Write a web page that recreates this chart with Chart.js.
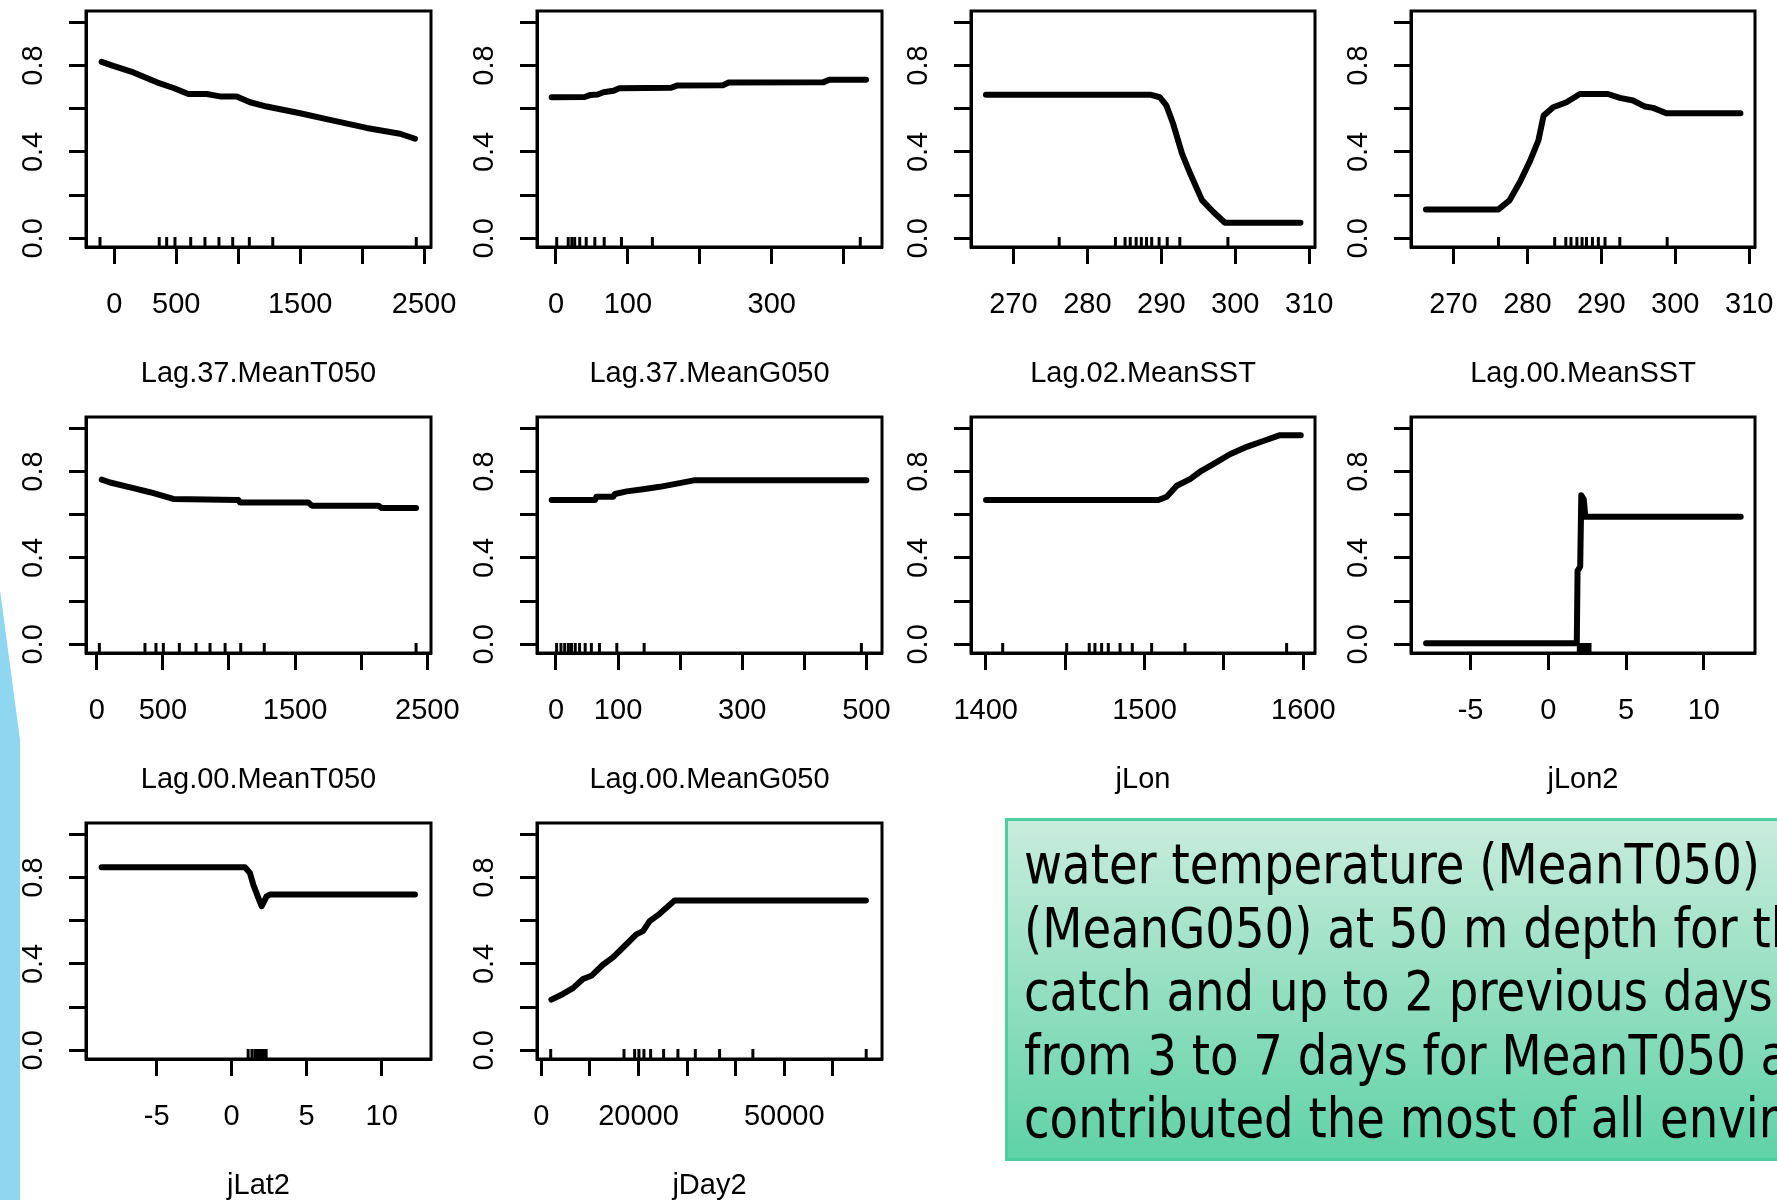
<!DOCTYPE html>
<html>
<head>
<meta charset="utf-8">
<title>Partial dependence plots</title>
<script src="https://cdn.jsdelivr.net/npm/chart.js@4.4.1/dist/chart.umd.min.js"></script>
<style>
  html, body { margin: 0; padding: 0; width: 1777px; height: 1200px; overflow: hidden; background: #fff; }
  canvas.panel { position: absolute; }
  #accent {
    position: absolute; left: 0; top: 0; width: 20px; height: 1200px; background: #8fd7f1;
    clip-path: polygon(0 590px, 20px 740px, 20px 1200px, 0 1200px);
  }
  #note {
    position: absolute; left: 1005px; top: 818px; width: 900px; height: 337px;
    border: 3px solid #4ccf9f;
    background: linear-gradient(#c8ecdd, #60d2a8);
  }
  #note .ln {
    position: absolute; left: 16px; white-space: nowrap;
    font-family: 'DejaVu Sans', sans-serif; font-size: 56px; line-height: 56px; color: #000;
    transform-origin: 0 0;
  }
</style>
</head>
<body>
<div id="accent"></div>
<div id="note">
  <div class="ln">water temperature (MeanT050)</div>
  <div class="ln">(MeanG050) at 50 m depth for the</div>
  <div class="ln">catch and up to 2 previous days</div>
  <div class="ln">from 3 to 7 days for MeanT050 and</div>
  <div class="ln">contributed the most of all environmental</div>
</div>
<script>
// ---- fitted partial dependence curves (x values, y values) and rug (deciles) ----
const lag37T050X = [-102, -8, 155, 344, 478, 598, 746, 853, 988, 1096, 1230, 1500, 1768, 2037, 2306, 2427];
const lag37T050Y = [0.817, 0.798, 0.768, 0.722, 0.696, 0.668, 0.668, 0.657, 0.657, 0.630, 0.610, 0.579, 0.545, 0.511, 0.484, 0.461];
const lag37T050Rug = [-115, 363, 423, 490, 617, 732, 845, 956, 1090, 1279, 2437];

const lag37G050X = [-6, 40, 48, 58, 66, 80, 88, 160, 168, 232, 240, 372, 380, 431];
const lag37G050Y = [0.653, 0.654, 0.664, 0.666, 0.676, 0.683, 0.695, 0.697, 0.707, 0.709, 0.721, 0.723, 0.734, 0.734];
const lag37G050Rug = [1, 17, 22, 26, 33, 42, 54, 67, 91, 134, 423];

const lag02SSTX = [266.3, 288.5, 289.8, 290.7, 291.6, 292.8, 293.9, 295.5, 297.0, 298.6, 308.8];
const lag02SSTY = [0.665, 0.665, 0.653, 0.614, 0.530, 0.392, 0.300, 0.177, 0.123, 0.072, 0.072];
const lag02SSTRug = [276.2, 283.8, 285.1, 285.8, 286.6, 287.3, 288.0, 288.7, 289.7, 290.8, 292.5, 299.0];

const lag00SSTX = [266.3, 276.1, 277.6, 279.0, 280.4, 281.5, 282.2, 283.5, 285.3, 287.1, 290.9, 292.5, 294.3, 295.9, 297.0, 298.8, 308.8];
const lag00SSTY = [0.134, 0.134, 0.176, 0.261, 0.361, 0.453, 0.568, 0.607, 0.630, 0.668, 0.668, 0.650, 0.638, 0.610, 0.604, 0.579, 0.579];
const lag00SSTRug = [276.1, 283.7, 285.2, 285.9, 286.7, 287.4, 288.0, 288.8, 289.6, 290.5, 292.5, 298.9];

const lag00T050X = [38, 101, 277, 403, 579, 1071, 1084, 1600, 1626, 2130, 2155, 2415];
const lag00T050Y = [0.762, 0.749, 0.723, 0.704, 0.673, 0.668, 0.657, 0.657, 0.642, 0.642, 0.631, 0.631];
const lag00T050Rug = [20, 365, 448, 504, 625, 751, 857, 971, 1089, 1267, 2415];

const lag00G050X = [-7, 63, 65, 92, 95, 114, 140, 167, 197, 224, 500];
const lag00G050Y = [0.668, 0.668, 0.683, 0.683, 0.696, 0.708, 0.718, 0.729, 0.745, 0.760, 0.760];
const lag00G050Rug = [1, 8, 14, 20, 25, 31, 38, 47, 57, 70, 98, 142, 492];

const jLonX = [1400.2, 1508.7, 1514, 1520.3, 1528.7, 1535, 1543.3, 1553.8, 1564.4, 1574.8, 1585.3, 1598.4];
const jLonY = [0.668, 0.668, 0.683, 0.734, 0.765, 0.799, 0.834, 0.880, 0.914, 0.941, 0.968, 0.968];
const jLonRug = [1410.7, 1451, 1465.2, 1468.8, 1473, 1477.2, 1484.6, 1492.3, 1504.5, 1525.5, 1589.5];

const jLon2X = [-7.86, 1.83, 1.88, 2.05, 2.12, 2.28, 2.38, 12.37];
const jLon2Y = [0.005, 0.005, 0.34, 0.36, 0.69, 0.67, 0.59, 0.59];
const jLon2Rug = [1.93, 2.04, 2.15, 2.25, 2.36, 2.47, 2.57, 2.68];

const jLat2X = [-8.67, 0.89, 1.22, 1.44, 1.78, 2.0, 2.33, 2.55, 12.22];
const jLat2Y = [0.847, 0.847, 0.821, 0.767, 0.706, 0.667, 0.713, 0.721, 0.721];
const jLat2Rug = [1.1, 1.35, 1.55, 1.7, 1.85, 2.0, 2.15, 2.3];

const jDay2X = [2058, 4444, 6502, 8560, 10281, 12671, 14733, 17490, 19547, 20912, 22284, 24342, 27428, 66811];
const jDay2Y = [0.235, 0.261, 0.288, 0.330, 0.345, 0.396, 0.430, 0.491, 0.537, 0.552, 0.598, 0.632, 0.693, 0.693];
const jDay2Rug = [1914, 17000, 19198, 20082, 21111, 22490, 25165, 28107, 31687, 36687, 43539, 66871];

// ---- tick positions and labels ----
const yTicks = [0, 0.2, 0.4, 0.6, 0.8, 1.0];
const yTickLabels = ['0.0', '', '0.4', '', '0.8', ''];
const ticksT050 = [0, 500, 1000, 1500, 2000, 2500];
const labelsT050 = ['0', '500', '', '1500', '', '2500'];
const ticksG050a = [0, 100, 200, 300, 400];
const labelsG050a = ['0', '100', '', '300', ''];
const ticksG050b = [0, 100, 200, 300, 400, 500];
const labelsG050b = ['0', '100', '', '300', '', '500'];
const ticksSST = [270, 280, 290, 300, 310];
const labelsSST = ['270', '280', '290', '300', '310'];
const ticksLon = [1400, 1450, 1500, 1550, 1600];
const labelsLon = ['1400', '', '1500', '', '1600'];
const ticksShift = [-5, 0, 5, 10];
const labelsShift = ['-5', '0', '5', '10'];
const ticksDay = [0, 10000, 20000, 30000, 40000, 50000, 60000];
const labelsDay = ['0', '', '20000', '', '', '50000', ''];

const titles = ['Lag.37.MeanT050', 'Lag.37.MeanG050', 'Lag.02.MeanSST', 'Lag.00.MeanSST',
                'Lag.00.MeanT050', 'Lag.00.MeanG050', 'jLon', 'jLon2', 'jLat2', 'jDay2'];

// ---- grid layout ----
const FONT = "'Liberation Sans', Arial, sans-serif";
const Y_MIN = -0.04, Y_MAX = 1.0522;
const COL_LEFT = [86, 537, 971, 1411];
const COL_RIGHT = [431, 882, 1315, 1755];
const ROW_TOP = [10, 416, 822];
const BOX_H = 237;
const AXIS_W = 86, AXIS_H = 144, PAD_T = 12, PAD_R = 45;

const panels = [
  { x: lag37T050X, y: lag37T050Y, rug: lag37T050Rug, ticks: ticksT050, labels: labelsT050, xlim: [-228, 2556], row: 0, col: 0 },
  { x: lag37G050X, y: lag37G050Y, rug: lag37G050Rug, ticks: ticksG050a, labels: labelsG050a, xlim: [-26.4, 453.2], row: 0, col: 1 },
  { x: lag02SSTX, y: lag02SSTY, rug: lag02SSTRug, ticks: ticksSST, labels: labelsSST, xlim: [264.28, 310.77], row: 0, col: 2 },
  { x: lag00SSTX, y: lag00SSTY, rug: lag00SSTRug, ticks: ticksSST, labels: labelsSST, xlim: [264.28, 310.77], row: 0, col: 3 },
  { x: lag00T050X, y: lag00T050Y, rug: lag00T050Rug, ticks: ticksT050, labels: labelsT050, xlim: [-81, 2528], row: 1, col: 0 },
  { x: lag00G050X, y: lag00G050Y, rug: lag00G050Rug, ticks: ticksG050b, labels: labelsG050b, xlim: [-30.6, 525.2], row: 1, col: 1 },
  { x: jLonX, y: jLonY, rug: jLonRug, ticks: ticksLon, labels: labelsLon, xlim: [1390.74, 1607.37], row: 1, col: 2 },
  { x: jLon2X, y: jLon2Y, rug: jLon2Rug, ticks: ticksShift, labels: labelsShift, xlim: [-8.83, 13.29], row: 1, col: 3 },
  { x: jLat2X, y: jLat2Y, rug: jLat2Rug, ticks: ticksShift, labels: labelsShift, xlim: [-9.71, 13.29], row: 2, col: 0 },
  { x: jDay2X, y: jDay2Y, rug: jDay2Rug, ticks: ticksDay, labels: labelsDay, xlim: [-905, 70123], row: 2, col: 1 }
];

// full rectangle around each plotting region
const boxFrame = {
  id: 'boxFrame',
  beforeDatasetsDraw(chart) {
    const { ctx, chartArea: a } = chart;
    ctx.save();
    ctx.strokeStyle = '#000';
    ctx.lineWidth = 3;
    ctx.strokeRect(a.left, a.top, a.right - a.left, a.bottom - a.top);
    ctx.restore();
  }
};

const axisGrid = { display: true, drawOnChartArea: false, drawTicks: true, tickLength: 17, tickWidth: 3, tickColor: '#000', color: '#000' };
const axisBorder = { display: true, color: '#000', width: 3 };

panels.forEach((p, k) => {
  const boxW = COL_RIGHT[p.col] - COL_LEFT[p.col];
  const cv = document.createElement('canvas');
  cv.className = 'panel';
  cv.width = boxW + AXIS_W + PAD_R;
  cv.height = PAD_T + BOX_H + AXIS_H;
  cv.style.left = (COL_LEFT[p.col] - AXIS_W) + 'px';
  cv.style.top = (ROW_TOP[p.row] - PAD_T) + 'px';
  document.body.appendChild(cv);

  new Chart(cv, {
    type: 'scatter',
    data: {
      datasets: [
        {
          data: p.x.map((v, i) => ({ x: v, y: p.y[i] })),
          showLine: true, borderColor: '#000', borderWidth: 6, pointRadius: 0,
          borderCapStyle: 'round', borderJoinStyle: 'round', tension: 0
        },
        {
          data: p.rug.map(v => ({ x: v, y: Y_MIN })),
          showLine: false, pointStyle: 'line', pointRotation: 90, pointRadius: 10,
          pointBorderWidth: 3, pointBorderColor: '#000', clip: 0
        }
      ]
    },
    options: {
      responsive: false, animation: false, devicePixelRatio: 1, events: [],
      layout: { padding: { top: PAD_T, right: PAD_R, left: 0, bottom: 0 } },
      plugins: { legend: { display: false }, tooltip: { enabled: false } },
      scales: {
        x: {
          type: 'linear', position: 'bottom', min: p.xlim[0], max: p.xlim[1],
          afterBuildTicks: s => { s.ticks = p.ticks.map(v => ({ value: v })); },
          afterFit: s => { s.height = AXIS_H; s.paddingLeft = 0; s.paddingRight = 0; },
          ticks: {
            autoSkip: false, minRotation: 0, maxRotation: 0, padding: 24, color: '#000',
            font: { family: FONT, size: 29 }, callback: (v, i) => p.labels[i]
          },
          grid: axisGrid, border: axisBorder,
          title: { display: true, text: titles[k], color: '#000', font: { family: FONT, size: 29 }, padding: { top: 0, bottom: 0 } }
        },
        y: {
          type: 'linear', position: 'left', min: Y_MIN, max: Y_MAX,
          afterBuildTicks: s => { s.ticks = yTicks.map(v => ({ value: v })); },
          afterFit: s => { s.width = AXIS_W; s.paddingTop = 0; s.paddingBottom = 0; },
          ticks: {
            autoSkip: false, minRotation: 90, maxRotation: 90, crossAlign: 'center', padding: 15, color: '#000',
            font: { family: FONT, size: 29 }, callback: (v, i) => yTickLabels[i]
          },
          grid: axisGrid, border: axisBorder
        }
      }
    },
    plugins: [boxFrame]
  });
});

// text lines in the note box: fixed baselines, horizontally condensed to the box's measure
(function layoutNote() {
  const lines = document.querySelectorAll('#note .ln');
  const m = document.createElement('canvas').getContext('2d');
  m.font = "56px 'DejaVu Sans'";
  const s = 736 / m.measureText(lines[0].textContent).width;
  lines.forEach((el, i) => {
    el.style.top = (15 + 63.5 * i) + 'px';
    el.style.transform = 'scaleX(' + s.toFixed(4) + ')';
  });
})();
</script>
</body>
</html>
